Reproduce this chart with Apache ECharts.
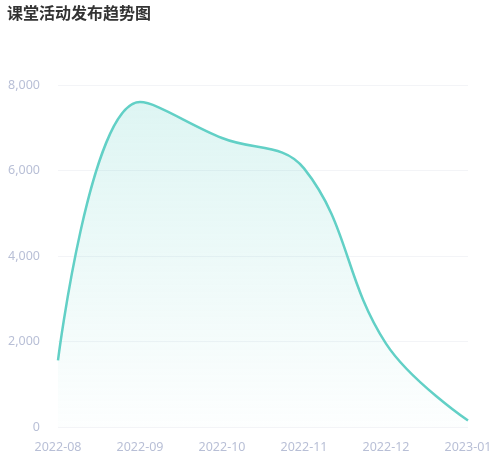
<!DOCTYPE html>
<html>
<head>
<meta charset="utf-8">
<script src="https://cdn.jsdelivr.net/npm/echarts@6/dist/echarts.min.js"></script>
<style>html,body{margin:0;padding:0;background:#fff}#c{width:502px;height:471px}</style>
</head>
<body>
<div id="c"></div>
<script>
const months = ['2022-08', '2022-09', '2022-10', '2022-11', '2022-12', '2023-01'];
const counts = [1560, 7600, 6760, 6050, 1950, 150];

const chart = echarts.init(document.getElementById('c'), null, {renderer: 'canvas'});
chart.setOption({
  animation: false,
  title: {
    text: '课堂活动发布趋势图',
    left: 2, top: 0,
    textStyle: {fontSize: 16, fontWeight: 'bold', color: '#333', fontFamily: 'Noto Sans CJK SC'}
  },
  grid: {left: 58, right: 34, top: 85, bottom: 44},
  xAxis: {
    type: 'category',
    data: months,
    boundaryGap: false,
    axisLine: {show: false},
    axisTick: {show: false},
    axisLabel: {color: '#b8bfd6', fontSize: 12.5, margin: 14, fontFamily: 'Noto Sans'}
  },
  yAxis: {
    type: 'value',
    min: 0, max: 8000, interval: 2000,
    axisLine: {show: false},
    axisTick: {show: false},
    splitLine: {lineStyle: {color: '#f3f4f7'}},
    axisLabel: {color: '#b8bfd6', fontSize: 12.5, margin: 18, fontFamily: 'Noto Sans',
      formatter: v => v.toLocaleString('en-US')}
  },
  series: [{
    type: 'line',
    data: counts,
    smooth: 0.4,
    showSymbol: false,
    lineStyle: {color: '#62d0c6', width: 2.5},
    itemStyle: {color: '#62d0c6'},
    areaStyle: {
      color: new echarts.graphic.LinearGradient(0, 0, 0, 1, [
        {offset: 0, color: 'rgba(98,208,198,0.30)'},
        {offset: 1, color: 'rgba(98,208,198,0.02)'}
      ])
    }
  }]
});
</script>
</body>
</html>
